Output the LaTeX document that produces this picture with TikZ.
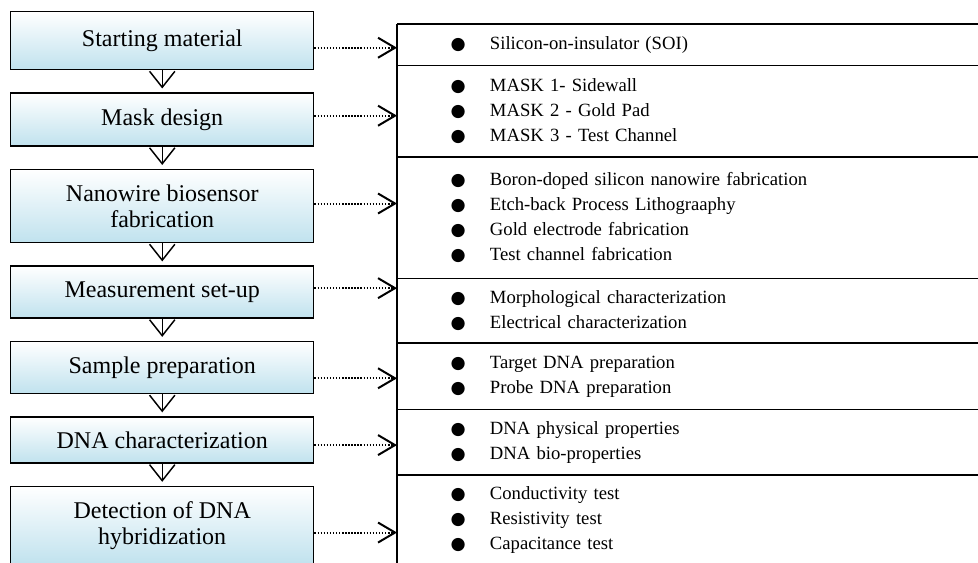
\documentclass[tikz,border=0pt]{standalone}
\usepackage{fontspec}
\setmainfont{Liberation Serif}
\newfontfamily\dotfont{DejaVu Sans}
\usepackage{tikz}
\usetikzlibrary{arrows.meta,positioning,calc}
\definecolor{stepblue}{RGB}{192,226,238}
\newcommand{\blt}{\makebox[28.5pt][l]{\hspace*{-1pt}{\dotfont\fontsize{13}{13}\selectfont ●}}}
\tikzset{
  fcbox/.style={draw,line width=1.1pt,align=center,inner sep=2pt,
    font=\fontsize{18}{19.5}\selectfont,minimum width=227.25pt,
    top color=white,bottom color=stepblue},
  fcinfo/.style={align=left,anchor=north west,inner xsep=41pt,inner ysep=0pt,
    font=\fontsize{14}{18.75}\selectfont,text width=353.75pt},
  fcline/.style={line width=1.1pt},
  fcdown/.style={-{Straight Barb[length=12pt,width=19pt]},line width=1.1pt,shorten >=3pt},
  fcdot/.style={-{Straight Barb[length=12.75pt,width=15pt]},line width=1.5pt,
    dash pattern=on 1.1pt off 1.2pt},
}

\begin{document}
\begin{tikzpicture}[node distance=16.5pt]
\useasboundingbox (0,0) rectangle (733.5pt,-421.5pt);
% process steps
\node[fcbox,minimum height=43.5pt,anchor=north west] (a) at (7.5pt,-8.25pt) {Starting material};
\node[fcbox,minimum height=39.75pt,below=of a] (b) {Mask design};
\node[fcbox,minimum height=54.75pt,below=of b] (c) {Nanowire biosensor\\fabrication};
\node[fcbox,minimum height=39pt,below=of c] (d) {Measurement set-up};
\node[fcbox,minimum height=39pt,below=of d] (e) {Sample preparation};
\node[fcbox,minimum height=34.5pt,below=of e] (f) {DNA characterization};
\node[fcbox,minimum height=58.5pt,below=of f] (g) {Detection of DNA\\hybridization};
% details
\node[fcinfo,minimum height=30.75pt] (ra) at (297.75pt,-18pt) {\blt Silicon-on-insulator (SOI)};
\node[fcinfo,minimum height=68.25pt,below=0pt of ra] (rb) {\blt MASK 1- Sidewall\\
  \blt MASK 2 - Gold Pad\\\blt MASK 3 - Test Channel};
\node[fcinfo,minimum height=90.75pt,below=0pt of rb] (rc) {\blt Boron-doped silicon nanowire fabrication\\
  \blt Etch-back Process Lithograaphy\\\blt Gold electrode fabrication\\\blt Test channel fabrication};
\node[fcinfo,minimum height=48pt,below=0pt of rc] (rd) {\blt Morphological characterization\\
  \blt Electrical characterization};
\node[fcinfo,minimum height=49.5pt,below=0pt of rd] (re) {\blt Target DNA preparation\\
  \blt Probe DNA preparation};
\node[fcinfo,minimum height=48.75pt,below=0pt of re] (rf) {\blt DNA physical properties\\
  \blt DNA bio-properties};
\node[fcinfo,minimum height=67.5pt,below=0pt of rf] (rg) {\blt Conductivity test\\
  \blt Resistivity test\\\blt Capacitance test};
\draw[fcline] (ra.north west) -- (ra.north east);
\draw[fcline] (ra.south west) -- (ra.south east);
\draw[fcline] (rb.south west) -- (rb.south east);
\draw[fcline] (rc.south west) -- (rc.south east);
\draw[fcline] (rd.south west) -- (rd.south east);
\draw[fcline] (re.south west) -- (re.south east);
\draw[fcline] (rf.south west) -- (rf.south east);
\draw[fcline] (ra.north west) -- (rg.south west);
% flow
\draw[fcdown] (a.south) -- (b.north);
\draw[fcdown] (b.south) -- (c.north);
\draw[fcdown] (c.south) -- (d.north);
\draw[fcdown] (d.south) -- (e.north);
\draw[fcdown] (e.south) -- (f.north);
\draw[fcdown] (f.south) -- (g.north);
\draw[fcdot] ([yshift=-5.25pt]a.east) -- ([yshift=-5.25pt]a.east -| ra.west);
\draw[fcdot] ([yshift=3pt]b.east) -- ([yshift=3pt]b.east -| rb.west);
\draw[fcdot] ([yshift=2pt]c.east) -- ([yshift=2pt]c.east -| rc.west);
\draw[fcdot] ([yshift=3pt]d.east) -- ([yshift=3pt]d.east -| rd.west);
\draw[fcdot] ([yshift=-8pt]e.east) -- ([yshift=-8pt]e.east -| re.west);
\draw[fcdot] ([yshift=-3.75pt]f.east) -- ([yshift=-3.75pt]f.east -| rf.west);
\draw[fcdot] ([yshift=-5.25pt]g.east) -- ([yshift=-5.25pt]g.east -| rg.west);
\end{tikzpicture}
\end{document}
